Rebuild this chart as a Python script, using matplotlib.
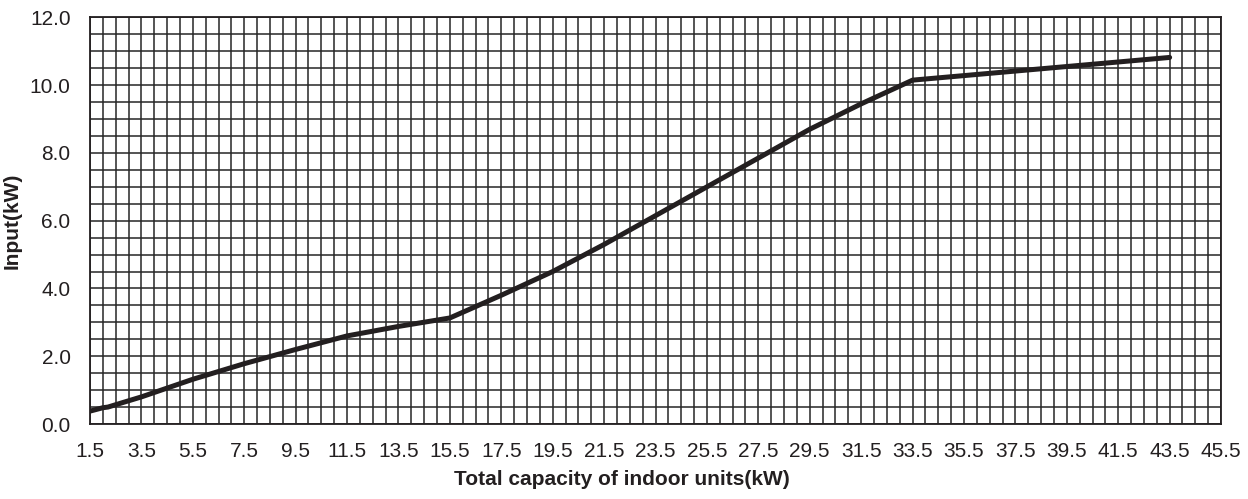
import numpy as np
import matplotlib.pyplot as plt

# Curva de consumo frente a capacidad total de unidades interiores
capacidad = [1.5, 2.0, 2.2, 3.5, 5.5, 7.5, 9.5, 11.5, 13.5, 15.5, 17.5,
             19.5, 21.5, 23.5, 25.5, 27.5, 29.5, 31.5, 33.5, 43.5]
potencia = [0.38, 0.48, 0.50, 0.80, 1.32, 1.78, 2.20, 2.60, 2.88, 3.13, 3.80,
            4.50, 5.30, 6.15, 7.00, 7.85, 8.70, 9.45, 10.15, 10.82]

x_ticks = np.arange(1.5, 45.6, 2)
y_ticks = np.arange(0, 12.1, 2)

plt.rcParams['font.family'] = ['Liberation Sans', 'DejaVu Sans']

fig = plt.figure(figsize=(12.48, 4.99), dpi=100)
ax = fig.add_axes([0.0721, 0.1503, 0.9063, 0.8147])

ax.plot(capacidad, potencia, color='#231f20', linewidth=3.6,
        solid_capstyle='round', solid_joinstyle='round', zorder=3)

ax.set_xlim(1.5, 45.5)
ax.set_ylim(0, 12)
ax.set_xticks(x_ticks)
ax.set_xticklabels([f'{v:.1f}' for v in x_ticks])
ax.set_yticks(y_ticks)
ax.set_yticklabels([f'{v:.1f}' for v in y_ticks])
ax.set_xticks(np.arange(1.5, 45.6, 0.5), minor=True)
ax.set_yticks(np.arange(0, 12.1, 0.5), minor=True)

ax.grid(True, which='both', color='#262626', linewidth=1.1)
ax.tick_params(which='both', length=0)
ax.tick_params(axis='x', labelsize=15, pad=13, colors='#231f20')
ax.tick_params(axis='y', labelsize=15, pad=14, colors='#231f20')
for s in ax.spines.values():
    s.set_color('#231f20')
    s.set_linewidth(1.3)

ax.set_xlabel('Total capacity of indoor units(kW)', fontsize=15,
              fontweight='bold', color='#231f20')
ax.xaxis.set_label_coords(0.470, -0.113)
ax.set_ylabel('Input(kW)', fontsize=15, fontweight='bold', color='#231f20')
ax.yaxis.set_label_coords(-0.060, 0.5)

plt.savefig('out.png', dpi=100)
